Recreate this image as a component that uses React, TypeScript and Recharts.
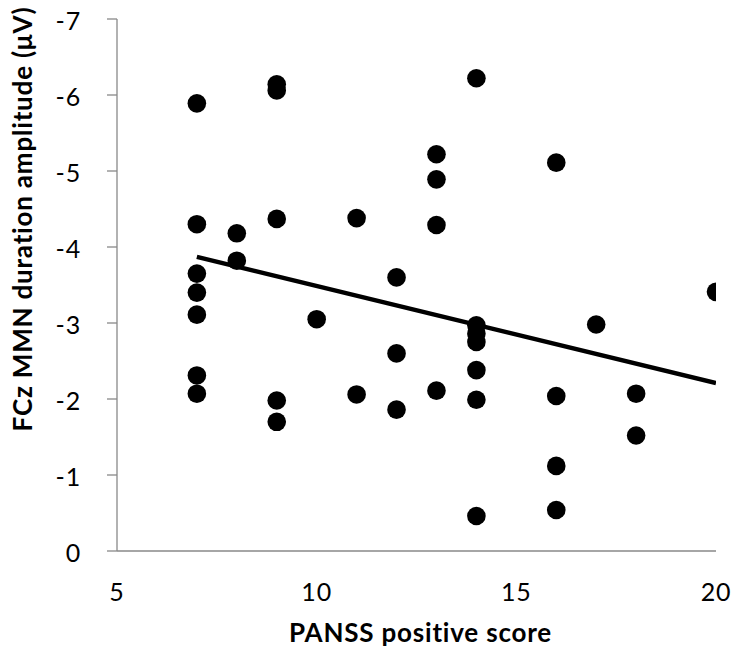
import React from "react";
import { ScatterChart, Scatter, XAxis, YAxis, Label } from "recharts";

const panssScores = [
  7, 7, 7, 7, 7, 7, 7,
  8, 8,
  9, 9, 9, 9, 9,
  10,
  11, 11,
  12, 12, 12,
  13, 13, 13, 13,
  14, 14, 14, 14, 14, 14, 14,
  16, 16, 16, 16,
  17,
  18, 18,
  20,
];
const mmnAmplitudes = [
  -5.89, -4.3, -3.65, -3.4, -3.11, -2.31, -2.07,
  -4.18, -3.82,
  -6.14, -6.06, -4.37, -1.98, -1.7,
  -3.05,
  -4.38, -2.06,
  -3.6, -2.6, -1.86,
  -5.22, -4.89, -4.29, -2.11,
  -6.22, -2.97, -2.86, -2.75, -2.38, -1.99, -0.46,
  -5.11, -2.04, -1.12, -0.54,
  -2.98,
  -2.07, -1.52,
  -3.41,
];
const trendX = [7, 20];
const trendY = [-3.87, -2.21];
const xTicks = [5, 10, 15, 20];
const yTicks = [-7, -6, -5, -4, -3, -2, -1, 0];
const xTitle = "PANSS positive score";
const yTitle = "FCz MMN duration amplitude (\u03bcV)";

const points = panssScores.map((x, i) => ({ x, y: mmnAmplitudes[i] }));
const trend = trendX.map((x, i) => ({ x, y: trendY[i] }));

const FONT = "Lato, 'Open Sans', sans-serif";
const AXIS = "#898989";

const Dot = (p: any) => <circle cx={p.cx} cy={p.cy} r={9.3} fill="#000" />;
const NoDot = () => <g />;

const YTick = (p: any) => (
  <text
    x={p.x}
    y={p.y + 2.5}
    dy="0.355em"
    textAnchor="end"
    fontFamily={FONT}
    fontSize={25}
    letterSpacing={0.8}
    fill="#000"
  >
    {p.payload.value}
  </text>
);

export default function App() {
  return (
    <div style={{ position: "fixed", left: 0, top: 0, width: 740, height: 665, background: "#fff" }}>
      <ScatterChart
        width={740}
        height={665}
        margin={{ top: 19, right: 24, left: 0, bottom: 0 }}
        style={{ fontFamily: FONT }}
      >
        <XAxis
          type="number"
          dataKey="x"
          domain={[5, 20]}
          ticks={xTicks}
          interval={0}
          allowDataOverflow
          height={114}
          tickLine={false}
          tickSize={0}
          tickMargin={32}
          axisLine={{ stroke: AXIS, strokeWidth: 1.3 }}
          tick={{ fill: "#000", fontSize: 25, fontFamily: FONT, letterSpacing: 0.8 }}
        >
          <Label
            content={({ viewBox }: any) => (
              <text
                x={viewBox.x + viewBox.width / 2 + 4}
                y={viewBox.y + 90.7}
                textAnchor="middle"
                fontFamily={FONT}
                fontWeight="bold"
                fontSize={26}
                letterSpacing={0.8}
                fill="#000"
              >
                {xTitle}
              </text>
            )}
          />
        </XAxis>
        <YAxis
          type="number"
          dataKey="y"
          domain={[-7, 0]}
          ticks={yTicks}
          interval={0}
          reversed
          allowDataOverflow
          width={117}
          tickSize={10}
          tickMargin={26}
          tickLine={{ stroke: AXIS, strokeWidth: 1.3 }}
          axisLine={{ stroke: AXIS, strokeWidth: 1.3 }}
          tick={YTick}
        >
          <Label
            content={({ viewBox }: any) => {
              const cx = viewBox.x + 22;
              const cy = viewBox.y + viewBox.height / 2 - 66;
              return (
                <text
                  x={cx}
                  y={cy}
                  transform={`rotate(-90 ${cx} ${cy})`}
                  textAnchor="middle"
                  dominantBaseline="central"
                  fontFamily={FONT}
                  fontWeight="bold"
                  fontSize={26}
                  letterSpacing={0.8}
                  fill="#000"
                >
                  {yTitle}
                </text>
              );
            }}
          />
        </YAxis>
        <Scatter data={points} shape={Dot} isAnimationActive={false} />
        <Scatter
          data={trend}
          shape={NoDot}
          line={{ stroke: "#000", strokeWidth: 4.5 }}
          lineType="joint"
          isAnimationActive={false}
        />
      </ScatterChart>
    </div>
  );
}
